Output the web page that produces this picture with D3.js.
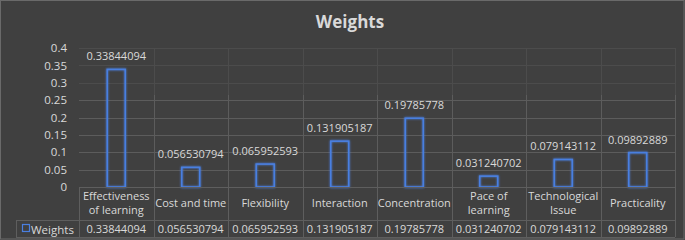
<!DOCTYPE html>
<html>
<head>
<meta charset="utf-8">
<script src="https://cdn.jsdelivr.net/npm/d3@7"></script>
<style>
  body { margin: 0; background: #404040; }
  svg text { font-family: "Open Sans", sans-serif; fill: #d9d9d9; }
</style>
</head>
<body>
<svg id="drawing_region"></svg>
<script>
// chart data
const categories = ["Effectiveness of learning", "Cost and time", "Flexibility", "Interaction",
                    "Concentration", "Pace of learning", "Technological Issue", "Practicality"];
const catLines = [["Effectiveness", "of learning"], ["Cost and time"], ["Flexibility"], ["Interaction"],
                  ["Concentration"], ["Pace of", "learning"], ["Technological", "Issue"], ["Practicality"]];
const weights = [0.33844094, 0.056530794, 0.065952593, 0.131905187,
                 0.19785778, 0.031240702, 0.079143112, 0.09892889];
const weightLabels = ["0.33844094", "0.056530794", "0.065952593", "0.131905187",
                      "0.19785778", "0.031240702", "0.079143112", "0.09892889"];
const yTicks = [0, 0.05, 0.1, 0.15, 0.2, 0.25, 0.3, 0.35, 0.4];
const seriesName = "Weights";

const config = {
    width: 685, height: 240,
    left: 79, right: 675, top: 48, bottom: 187,
    row1: 220, row2: 237, tableLeft: 16
};

const svg = d3.select('#drawing_region')
    .attr('width', config.width)
    .attr('height', config.height);

svg.append('rect')
    .attr('x', 0.5).attr('y', 0.5)
    .attr('width', config.width - 1.5).attr('height', config.height - 1.5)
    .attr('fill', '#404040')
    .attr('stroke', '#6a6a6a');

const defs = svg.append('defs');
const glow = defs.append('filter').attr('id', 'glow')
    .attr('x', '-50%').attr('y', '-50%').attr('width', '200%').attr('height', '200%');
glow.append('feGaussianBlur').attr('in', 'SourceGraphic').attr('stdDeviation', 1.3).attr('result', 'b');
const merge = glow.append('feMerge');
merge.append('feMergeNode').attr('in', 'b');
merge.append('feMergeNode').attr('in', 'SourceGraphic');

defs.append('clipPath').attr('id', 'lower')
    .append('rect').attr('x', 0).attr('y', 95).attr('width', config.width).attr('height', 200);

const xscale = d3.scaleBand()
    .domain(categories)
    .range([config.left, config.right])
    .paddingInner(0).paddingOuter(0);

const yscale = d3.scaleLinear()
    .domain([0, 0.4])
    .range([config.bottom, config.top]);

// title
svg.append('text')
    .attr('x', 350).attr('y', 28)
    .attr('text-anchor', 'middle')
    .attr('font-size', '17px')
    .attr('font-weight', 'bold')
    .style('fill', '#d9d9d9')
    .text(seriesName);

// gridlines (faint above, brighter lower part)
function drawGrid(g, color) {
    g.selectAll('line.h')
        .data(yTicks.filter(t => t > 0))
        .join('line')
        .attr('x1', config.left).attr('x2', config.right)
        .attr('y1', d => Math.round(yscale(d)) + 0.5)
        .attr('y2', d => Math.round(yscale(d)) + 0.5)
        .attr('stroke', color);
    g.selectAll('line.v')
        .data(categories.slice(1).concat(["__end"]))
        .join('line')
        .attr('x1', d => Math.round(d === "__end" ? config.right : xscale(d)) + 0.5)
        .attr('x2', d => Math.round(d === "__end" ? config.right : xscale(d)) + 0.5)
        .attr('y1', config.top).attr('y2', config.bottom)
        .attr('stroke', color);
}
const gridFaint = svg.append('g');
drawGrid(gridFaint, '#4c4c4c');
const gridBright = svg.append('g').attr('clip-path', 'url(#lower)');
drawGrid(gridBright, '#5c5c5c');

// y axis labels
const yaxis = d3.axisLeft(yscale).tickValues(yTicks).tickSize(0).tickPadding(12)
    .tickFormat(d => d3.format('')(+d.toFixed(2)));
const yaxisGroup = svg.append('g')
    .attr('transform', `translate(${config.left}, 0)`)
    .call(yaxis);
yaxisGroup.select('.domain').remove();
yaxisGroup.selectAll('text')
    .attr('font-size', '11.5px')
    .attr('font-family', '"Open Sans", sans-serif')
    .style('fill', '#d9d9d9');

// bars
const barW = 18;
svg.append('g').selectAll('rect')
    .data(weights)
    .join('rect')
    .attr('x', (d, i) => xscale(categories[i]) + xscale.bandwidth() / 2 - barW / 2)
    .attr('y', d => yscale(d))
    .attr('width', barW)
    .attr('height', d => yscale(0) - yscale(d))
    .attr('fill', 'none')
    .attr('stroke', '#4a7fe0')
    .attr('stroke-width', 1.6)
    .attr('filter', 'url(#glow)');

// value labels
svg.append('g').selectAll('text')
    .data(weights)
    .join('text')
    .attr('x', (d, i) => xscale(categories[i]) + xscale.bandwidth() / 2)
    .attr('y', d => yscale(d) - 9)
    .attr('text-anchor', 'middle')
    .attr('font-size', '11px')
    .text((d, i) => weightLabels[i]);

// data table
const table = svg.append('g').attr('stroke', '#5e5e5e').attr('fill', 'none');
table.append('line').attr('x1', config.left).attr('x2', config.right)
    .attr('y1', config.bottom + 0.5).attr('y2', config.bottom + 0.5);
table.append('line').attr('x1', config.tableLeft).attr('x2', config.right)
    .attr('y1', config.row1 + 0.5).attr('y2', config.row1 + 0.5);
table.append('line').attr('x1', config.tableLeft).attr('x2', config.right)
    .attr('y1', config.row2 + 0.5).attr('y2', config.row2 + 0.5);
table.append('line').attr('x1', config.tableLeft + 0.5).attr('x2', config.tableLeft + 0.5)
    .attr('y1', config.row1).attr('y2', config.row2);
table.selectAll('line.col')
    .data(categories.concat(["__end"]))
    .join('line')
    .attr('x1', d => Math.round(d === "__end" ? config.right : xscale(d)) + 0.5)
    .attr('x2', d => Math.round(d === "__end" ? config.right : xscale(d)) + 0.5)
    .attr('y1', config.bottom).attr('y2', config.row2);

// category labels
const catGroup = svg.append('g');
catLines.forEach((lines, i) => {
    const cx = xscale(categories[i]) + xscale.bandwidth() / 2;
    const mid = (config.bottom + config.row1) / 2;
    lines.forEach((line, j) => {
        catGroup.append('text')
            .attr('x', cx)
            .attr('y', mid + (j - (lines.length - 1) / 2) * 14)
            .attr('dy', '0.35em')
            .attr('text-anchor', 'middle')
            .attr('font-size', '11px')
            .text(line);
    });
});

// values row
svg.append('g').selectAll('text')
    .data(weights)
    .join('text')
    .attr('x', (d, i) => xscale(categories[i]) + xscale.bandwidth() / 2)
    .attr('y', (config.row1 + config.row2) / 2 + 1)
    .attr('dy', '0.35em')
    .attr('text-anchor', 'middle')
    .attr('font-size', '11px')
    .text((d, i) => weightLabels[i]);

// legend key + series name
svg.append('rect')
    .attr('x', 22.5).attr('y', 224.5).attr('width', 7).attr('height', 7)
    .attr('fill', 'none').attr('stroke', '#4a7fe0').attr('stroke-width', 1.2);
svg.append('text')
    .attr('x', 31).attr('y', (config.row1 + config.row2) / 2 + 1)
    .attr('dy', '0.35em')
    .attr('font-size', '11.5px')
    .text(seriesName);
</script>
</body>
</html>
